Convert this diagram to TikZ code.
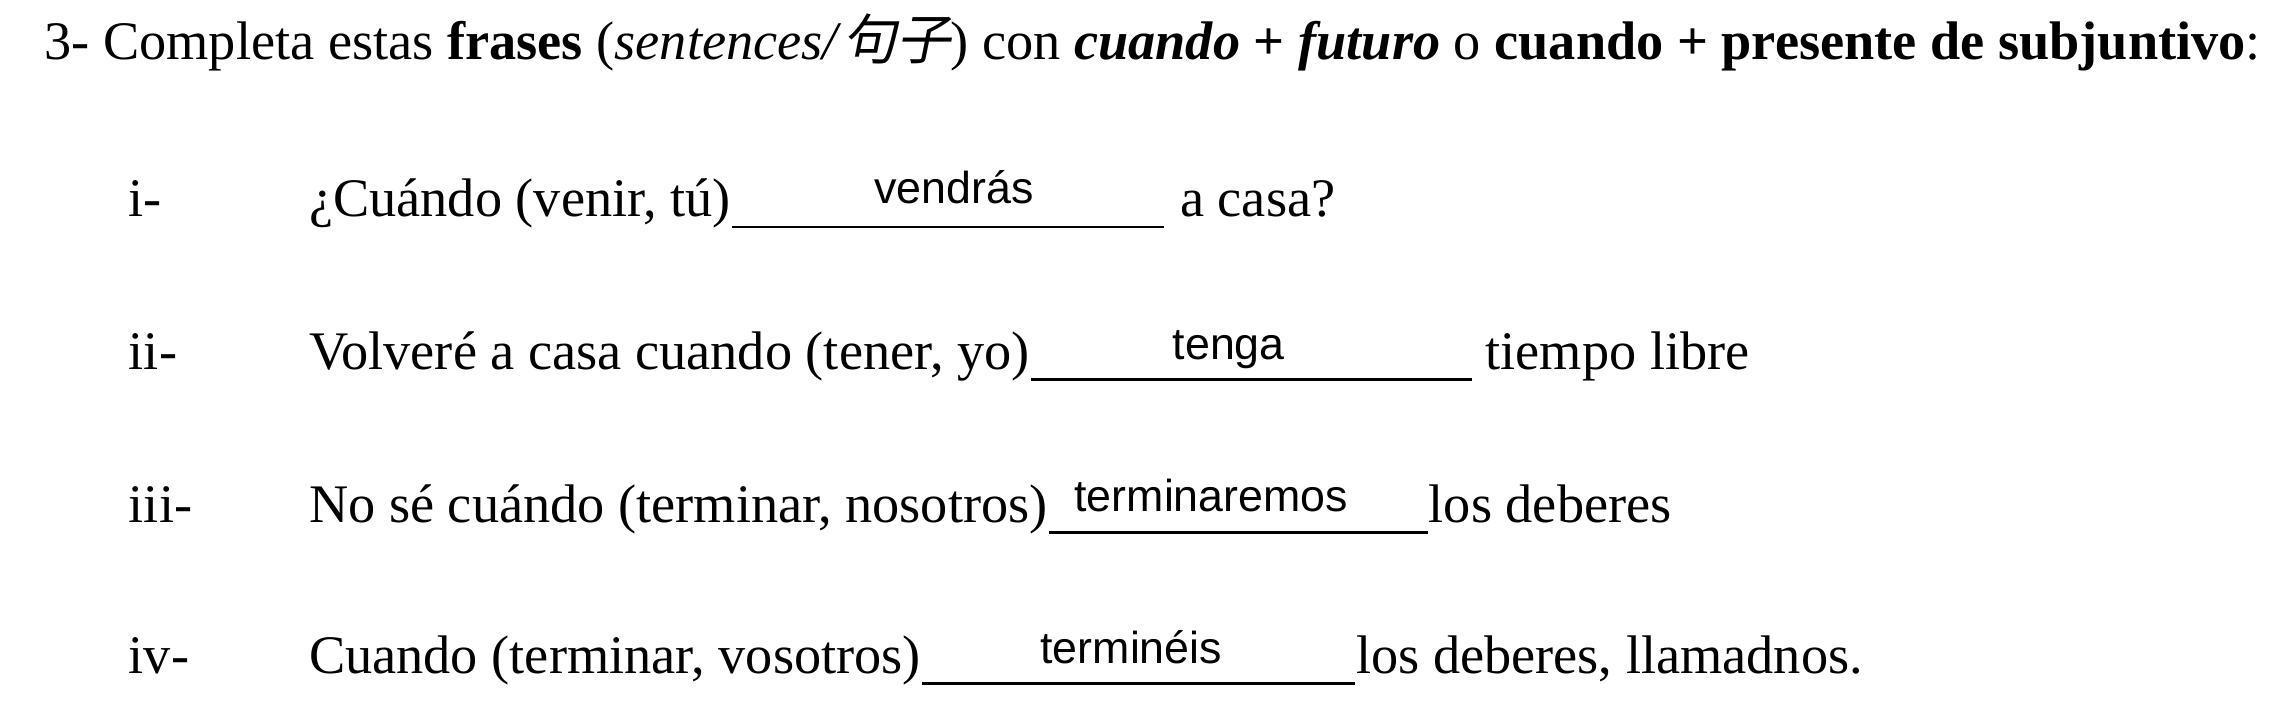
\documentclass[tikz,border=0pt]{standalone}
\usepackage{fontspec}
\setmainfont{Liberation Serif}
\newfontfamily\arial{Liberation Sans}
\newfontfamily\cjk[FakeSlant=0.2]{Noto Sans CJK SC}
\tikzset{
  txt/.style={anchor=base west, inner sep=0mm, font=\fontsize{12.14}{14}\selectfont
  },
  ans/.style={anchor=base, inner sep=0mm, font=\arial\fontsize{10}{12}\selectfont
  },
  blank/.style={line width=0.6pt
  }
}
\begin{document}
\begin{tikzpicture}[x=0.325pt,y=-0.325pt]
 \useasboundingbox (0,0) rectangle (1568,488.3);
 \node[txt] (title) at (30,41) {3- Completa estas \textbf{frases} (\textit{sentences/}{\cjk 句子}) con \textbf{\textit{cuando}} \textbf{+} \textbf{\textit{futuro}} o \textbf{cuando + presente de subjuntivo}:};

 \foreach \n/\y/\l in {1/149/i-, 2/254/ii-, 3/359/iii-, 4/463/iv-} {
   \node[txt] (n\n) at (88,\y) {\l};
  }

 \node[txt] (q1) at (212,149) {¿Cuándo (venir, tú)};
 \node[txt] (q2) at (212,254) {Volveré a casa cuando (tener, yo)};
 \node[txt] (q3) at (212,359) {No sé cuándo (terminar, nosotros)};
 \node[txt] (q4) at (212,463) {Cuando (terminar, vosotros)};

 \node[txt] (s1) at (811,149) {a casa?};
 \node[txt] (s2) at (1021,254) {tiempo libre};
 \node[txt] (s3) at (982,359) {los deberes};
 \node[txt] (s4) at (932,463) {los deberes, llamadnos.};

 \node[ans] (a1) at (656,140) {vendrás};
 \node[ans] (a2) at (845,247) {tenga};
 \node[ans] (a3) at (833,352) {terminaremos};
 \node[ans] (a4) at (778,456) {terminéis};

 \draw[blank] ([yshift=-2.3pt]q1.base east) -- ([xshift=-3.5pt,yshift=-2.3pt]s1.base west);
 \draw[blank] ([yshift=-2.3pt]q2.base east) -- ([xshift=-2.9pt,yshift=-2.3pt]s2.base west);
 \draw[blank] ([yshift=-2.3pt]q3.base east) -- ([yshift=-2.3pt]s3.base west);
 \draw[blank] ([yshift=-2.3pt]q4.base east) -- ([yshift=-2.3pt]s4.base west);
\end{tikzpicture}
\end{document}
